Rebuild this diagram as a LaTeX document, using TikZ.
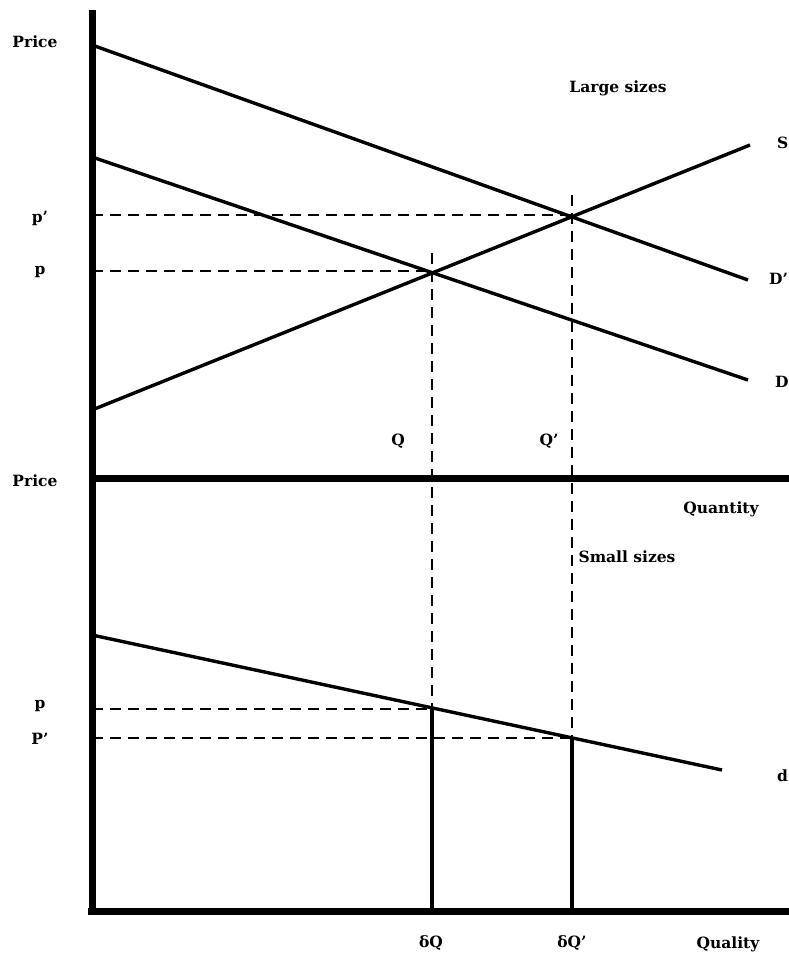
\documentclass[tikz,border=0pt]{standalone}
\usepackage{fontspec}
\setmainfont{DejaVu Serif}
\usepackage{tikz}
\usetikzlibrary{calc}

\tikzset{
  axe/.style={line width=7pt},
  courbe/.style={line width=3.4pt},
  tiret/.style={line width=1.7pt, dash pattern=on 11pt off 7pt},
  guide/.style={line width=3.2pt},
  lab/.style={font=\fontsize{15.5}{17}\selectfont\bfseries, inner sep=0pt}
}

\begin{document}
\begin{tikzpicture}[x=1pt,y=-1pt]

\useasboundingbox (0,0) rectangle (789,964);

% Points de base
\coordinate (O) at (92,911);
\coordinate (top) at (92,10);
\coordinate (mid) at (92,478);
\coordinate (midR) at (789,478);
\coordinate (botR) at (789,911);

% Axes
\draw[axe] (top) -- (O);
\draw[axe] (mid) -- (midR);
\draw[axe] (88,911) -- (botR);

% Courbes grandes tailles
\coordinate (Dp0) at (92,45);  \coordinate (Dp1) at (748,280);
\coordinate (D0) at (92,157);  \coordinate (D1) at (748,380);
\coordinate (S0) at (92,410);  \coordinate (S1) at (750,145);
\draw[courbe] (Dp0) -- (Dp1);
\draw[courbe] (D0) -- (D1);
\draw[courbe] (S0) -- (S1);

% Equilibres
\coordinate (E) at (432,271);
\coordinate (Ep) at (572,215);
\draw[tiret] (92,271) -- (E);
\draw[tiret] (92,215) -- (Ep);
\draw[tiret] (432,253) -- (432,706);
\draw[tiret] (572,195) -- (572,736);

% Petites tailles
\coordinate (d0) at (92,635);  \coordinate (d1) at (722,770);
\draw[courbe] (d0) -- (d1);
\coordinate (e) at (432,709);
\coordinate (ep) at (572,738);
\draw[tiret] (92,709) -- (e);
\draw[tiret] (92,738) -- (ep);
\draw[guide] (e) -- (432,911);
\draw[guide] (ep) -- (572,911);

% Etiquettes
\node[lab] (prix1) at (35,42) {Price};
\node[lab] (pp1) at (40,218) {p'};
\node[lab] (p1) at (40,272) {p};
\node[lab] (grand) at (618,88) {Large sizes};
\node[lab, anchor=west] (lS) at (777,143) {S};
\node[lab, anchor=west] (lDp) at (769,279) {D'};
\node[lab, anchor=west] (lD) at (775,382) {D};
\node[lab] (lQ) at (398,441) {Q};
\node[lab] (lQp) at (549,441) {Q'};
\node[lab] (prix2) at (35,481) {Price};
\node[lab] (quant) at (721,509) {Quantity};
\node[lab] (petit) at (627,557) {Small sizes};
\node[lab] (p2) at (40,706) {p};
\node[lab] (pp2) at (40,739) {P'};
\node[lab, anchor=west] (ld) at (777,776) {d};
\node[lab] (dQ) at (431,943) {δQ};
\node[lab] (dQp) at (572,943) {δQ'};
\node[lab] (qual) at (728,944) {Quality};

\end{tikzpicture}
\end{document}
